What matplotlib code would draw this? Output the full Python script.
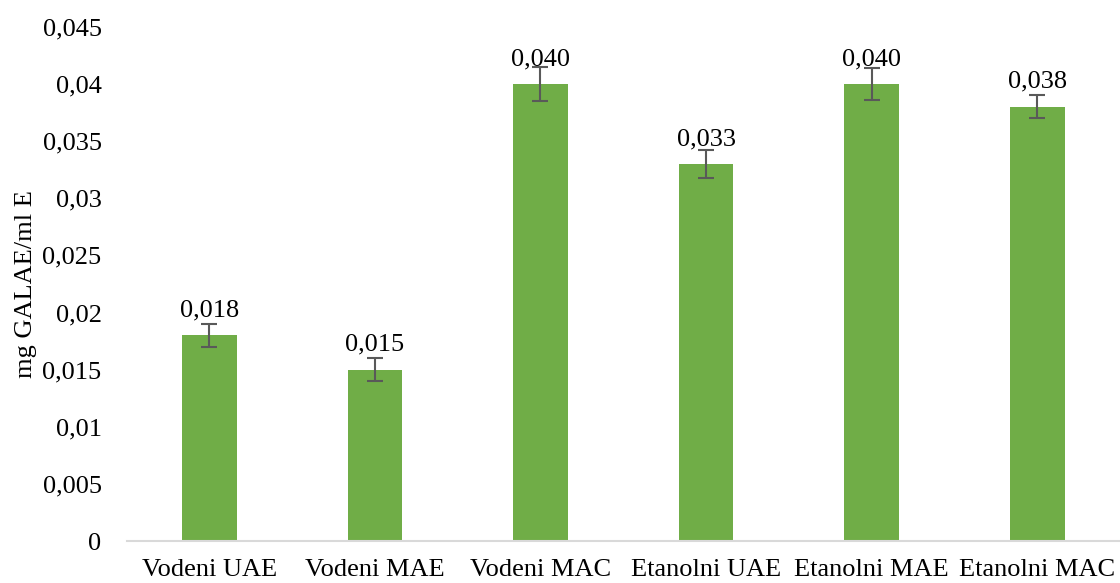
import numpy as np
import matplotlib.pyplot as plt

categories = ["Vodeni UAE", "Vodeni MAE", "Vodeni MAC",
              "Etanolni UAE", "Etanolni MAE", "Etanolni MAC"]
values = [0.018, 0.015, 0.040, 0.033, 0.040, 0.038]
errors = [0.0010, 0.0010, 0.0015, 0.0012, 0.0014, 0.0010]
labels = ["0,018", "0,015", "0,040", "0,033", "0,040", "0,038"]
yticks = [0, 0.005, 0.01, 0.015, 0.02, 0.025, 0.03, 0.035, 0.04, 0.045]
ytick_labels = ["0", "0,005", "0,01", "0,015", "0,02", "0,025", "0,03",
                "0,035", "0,04", "0,045"]

plt.rcParams.update({
    "font.family": ["Liberation Serif", "DejaVu Serif"],
    "font.size": 19,
})

fig = plt.figure(figsize=(11.2, 5.83), dpi=100)
ax = fig.add_axes([0.113, 0.072, 0.887, 0.882])

x = np.arange(len(categories))
bars = ax.bar(x, values, 0.33, color="#70AD47", zorder=2)
ax.errorbar(x, values, yerr=errors, fmt="none", ecolor="#595959",
            elinewidth=1.5, capsize=6, capthick=1.5, zorder=3)

for bar, lab in zip(bars, labels):
    ax.annotate(lab, (bar.get_x() + bar.get_width() / 2, bar.get_height()),
                xytext=(0, 10), textcoords="offset points",
                ha="center", va="bottom", fontsize=19, zorder=4)

ax.set_xlim(-0.5, 5.5)
ax.set_ylim(0, 0.045)
ax.set_yticks(yticks)
ax.set_yticklabels(ytick_labels)
ax.set_xticks(x)
ax.set_xticklabels(categories)
ax.set_ylabel("mg GALAE/ml E", fontsize=19, labelpad=4)

for s in ["top", "right", "left"]:
    ax.spines[s].set_visible(False)
ax.spines["bottom"].set_color("#D9D9D9")
ax.spines["bottom"].set_linewidth(1.5)
ax.tick_params(axis="both", length=0)
ax.tick_params(axis="y", pad=18)
ax.tick_params(axis="x", pad=13)

fig.savefig("out.png", dpi=100)
